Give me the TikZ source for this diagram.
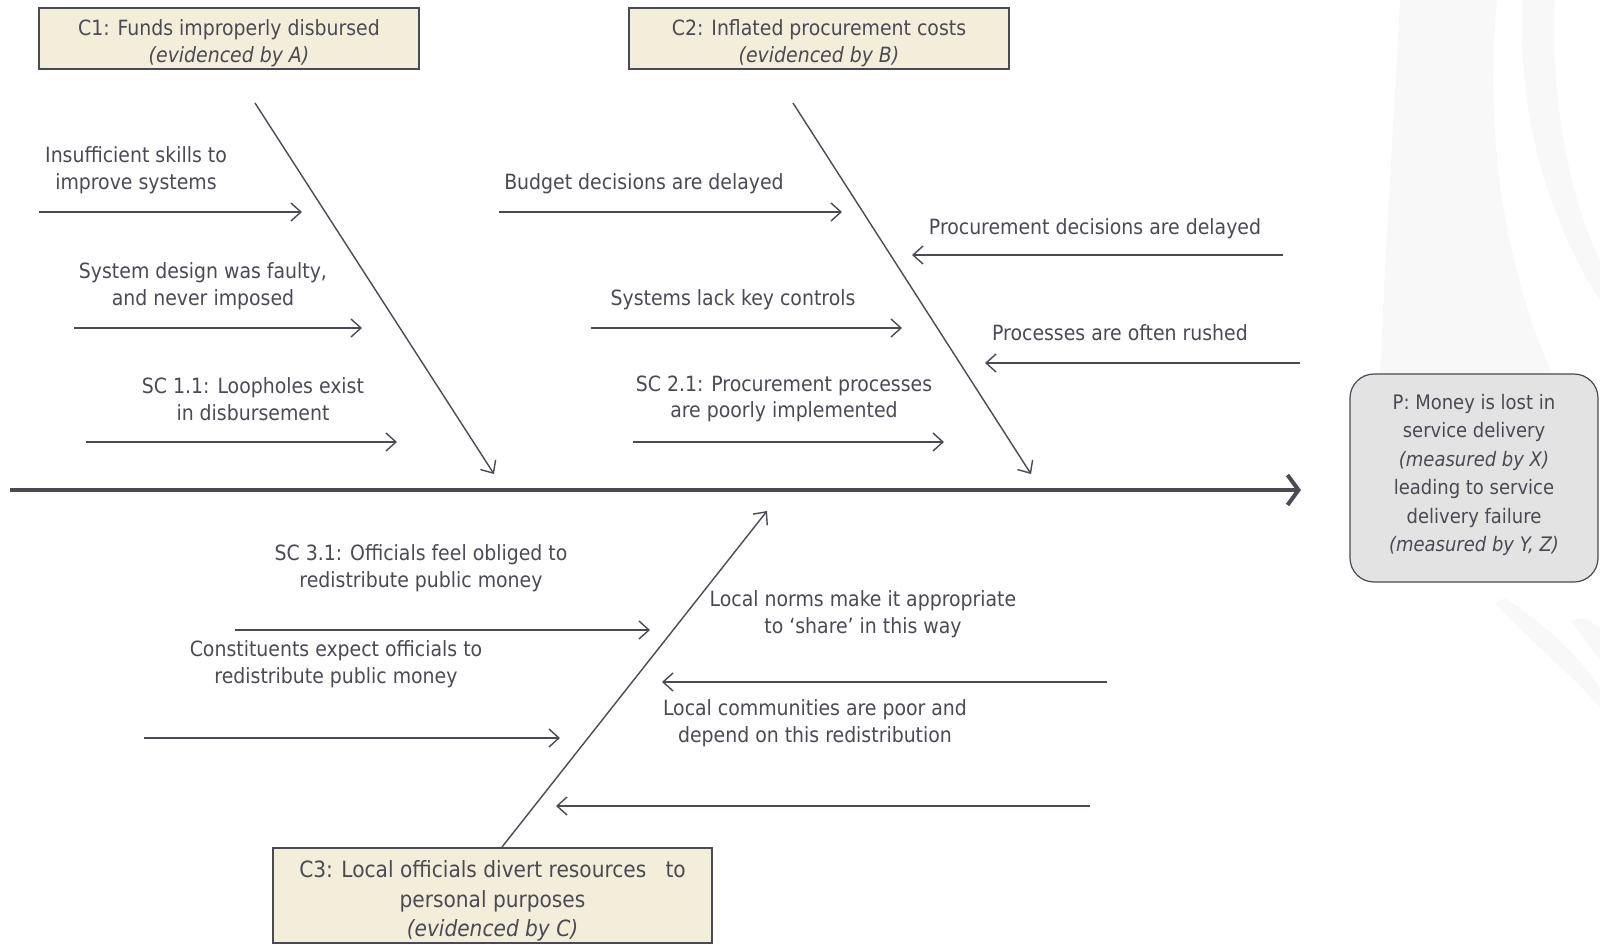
\documentclass[tikz,border=0pt]{standalone}
\usepackage{fontspec}
\setmainfont{DejaVu Sans Condensed}
\usetikzlibrary{arrows.meta}
\definecolor{ink}{HTML}{4A4A55}
\definecolor{cream}{HTML}{F3EED9}
\definecolor{pgray}{HTML}{E3E3E3}
\definecolor{wm}{HTML}{F7F8F7}
\begin{document}
\begin{tikzpicture}[x=0.5pt,y=-0.5pt,
  font=\fontsize{10.5}{13.25}\selectfont, text=ink,
  lbl/.style={align=center, inner sep=0pt},
  cbox/.style={draw=ink, fill=cream, line width=0.6pt, inner sep=0pt},
  pbox/.style={draw=ink, fill=pgray, line width=0.6pt, inner sep=0pt, rounded corners=12pt},
  bone/.style={draw=ink, line width=0.7pt, -{Straight Barb[length=5pt,width=9pt]}},
  spine/.style={draw=ink, line width=2pt, -{Straight Barb[length=5.5pt,width=15pt]}}]
\useasboundingbox (0,0) rectangle (1600,944);
% watermark
\fill[wm] (1400,0) -- (1497,0) .. controls (1485,120) and (1500,260) .. (1555,380) -- (1380,380) .. controls (1385,250) and (1395,100) .. (1400,0) -- cycle;
\fill[wm] (1523,0) -- (1555,0) .. controls (1550,100) and (1570,200) .. (1600,260) -- (1600,300) .. controls (1560,240) and (1515,130) .. (1523,0) -- cycle;
\fill[wm] (1495,603) -- (1505,598) .. controls (1550,628) and (1580,658) .. (1600,688) -- (1600,708) .. controls (1570,672) and (1530,642) .. (1495,603) -- cycle;
\fill[wm] (1570,620) -- (1585,618) -- (1600,628) -- (1600,660) -- cycle;

% boxes
\node[cbox, minimum width=190pt, minimum height=30.5pt] (c1) at (229,38.5) {};
\node[lbl] (c1t) at (229,43) {C1: Funds improperly disbursed\\\textit{(evidenced by A)}};
\node[cbox, minimum width=190pt, minimum height=30.5pt] (c2) at (819,38.5) {};
\node[lbl] (c2t) at (819,43) {C2: Inflated procurement costs\\\textit{(evidenced by B)}};
\node[cbox, minimum width=219.5pt, minimum height=47.5pt] (c3) at (492.5,895.5) {};
\node[lbl, font=\fontsize{11.2}{14.75}\selectfont] (c3t) at (492.5,901) {C3: Local officials divert resources\ \ \ to\\personal purposes\\\textit{(evidenced by C)}};
\node[pbox, minimum width=124pt, minimum height=104pt] (p) at (1474,478) {};
\node[lbl, font=\fontsize{10}{14.2}\selectfont] (pt) at (1474,475) {P: Money is lost in\\service delivery\\\textit{(measured by X)}\\leading to service\\delivery failure\\\textit{(measured by Y, Z)}};

% spine
\coordinate (s0) at (10,490);
\coordinate (s1) at (1301,490);
\draw[spine] (s0) -- (s1);

% diagonals
\coordinate (c1s) at (255,103); \coordinate (c1e) at (494,474);
\coordinate (c2s) at (793,103); \coordinate (c2e) at (1031,474);
\coordinate (c3s) at (502,847); \coordinate (c3e) at (767,511);
\draw[bone] (c1s) -- (c1e);
\draw[bone] (c2s) -- (c2e);
\draw[bone] (c3s) -- (c3e);

% horizontal arrows
\coordinate (a1s) at (39,212);   \coordinate (a1e) at (302,212);
\coordinate (a2s) at (74,328);   \coordinate (a2e) at (362,328);
\coordinate (a3s) at (86,442);   \coordinate (a3e) at (397,442);
\coordinate (a4s) at (499,212);  \coordinate (a4e) at (842,212);
\coordinate (a5s) at (591,328);  \coordinate (a5e) at (902,328);
\coordinate (a6s) at (633,442);  \coordinate (a6e) at (944,442);
\coordinate (a7s) at (1283,255); \coordinate (a7e) at (912,255);
\coordinate (a8s) at (1300,363); \coordinate (a8e) at (985,363);
\coordinate (a9s) at (235,630);  \coordinate (a9e) at (650,630);
\coordinate (a10s) at (144,738); \coordinate (a10e) at (560,738);
\coordinate (a11s) at (1107,682);\coordinate (a11e) at (662,682);
\coordinate (a12s) at (1090,806);\coordinate (a12e) at (556,806);
\foreach \i in {1,...,12} { \draw[bone] (a\i s) -- (a\i e); }

% labels
\node[lbl] (t1) at (136,170) {Insufficient skills to\\improve systems};
\node[lbl] (t2) at (203,286) {System design was faulty,\\and never imposed};
\node[lbl] (t3) at (253,399) {SC 1.1: Loopholes exist\\in disbursement};
\node[lbl] (t4) at (644,184) {Budget decisions are delayed};
\node[lbl] (t5) at (733,300) {Systems lack key controls};
\node[lbl] (t6) at (784,399) {SC 2.1: Procurement processes\\are poorly implemented};
\node[lbl] (t7) at (1095,229) {Procurement decisions are delayed};
\node[lbl] (t8) at (1120,333) {Processes are often rushed};
\node[lbl] (t9) at (421,568) {SC 3.1: Officials feel obliged to\\redistribute public money};
\node[lbl] (t10) at (336,664) {Constituents expect officials to\\redistribute public money};
\node[lbl] (t11) at (863,614) {Local norms make it appropriate\\to ‘share’ in this way};
\node[lbl] (t12) at (815,723) {Local communities are poor and\\depend on this redistribution};
\end{tikzpicture}
\end{document}
